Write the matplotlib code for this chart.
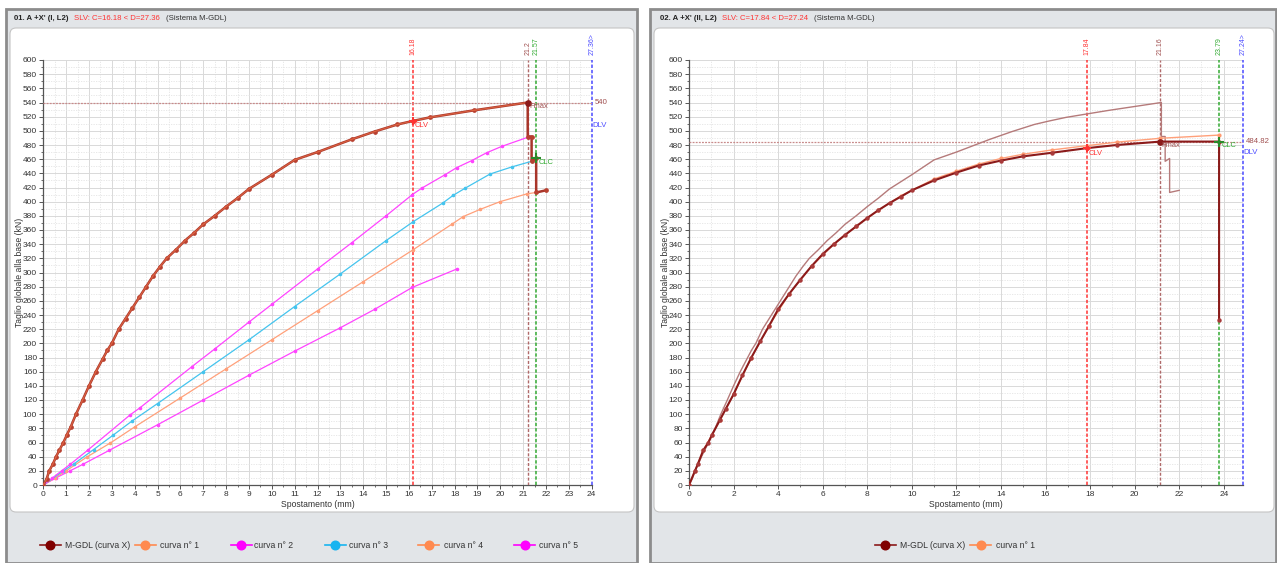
import numpy as np
import matplotlib
matplotlib.use("Agg")
import matplotlib.pyplot as plt
from matplotlib.lines import Line2D
from matplotlib.patches import Rectangle, FancyBboxPatch
from matplotlib.transforms import IdentityTransform
from matplotlib.ticker import MultipleLocator

plt.rcParams['font.family'] = ['Liberation Sans', 'DejaVu Sans']

# ---------------- DATA ----------------
# Panel 01 - M-GDL (curva X)
mgdl_L_x = [0, 0.15, 0.26, 0.41, 0.56, 0.70, 0.88, 1.02, 1.2, 1.43, 1.72, 2.0, 2.3, 2.6, 2.8, 3.0,
            3.3, 3.6, 3.9, 4.2, 4.5, 4.8, 5.1, 5.4, 5.8, 6.2, 6.6, 7.0, 7.5, 8.0, 8.5, 9.0, 10.0,
            11.0, 12.0, 13.5, 14.5, 15.5, 16.18, 16.92, 18.86, 21.2, 21.2, 21.37, 21.37, 21.57,
            21.57, 22.0]
mgdl_L_y = [0, 9, 20, 29, 40, 49, 60, 70, 82, 100, 120, 140, 160, 178, 190, 200,
            220, 235, 250, 265, 280, 295, 308, 320, 332, 345, 356, 368, 380, 393, 405, 418, 438,
            459, 470, 488, 499, 509, 514, 519, 529, 540, 492, 492, 457, 461,
            413, 416]
# curva n° 1 (panel 01) - overlaps M-GDL
c1_L_x = [0, 0.15, 0.26, 0.41, 0.56, 0.70, 0.88, 1.02, 1.2, 1.43, 1.72, 2.0, 2.3, 2.6, 2.8, 3.0,
          3.3, 3.6, 3.9, 4.2, 4.5, 4.8, 5.1, 5.4, 5.8, 6.2, 6.6, 7.0, 7.5, 8.0, 8.5, 9.0, 10.0,
          11.0, 12.0, 13.5, 14.5, 15.5, 16.18, 16.92, 18.86, 21.2]
c1_L_y = [0, 9, 20, 29, 40, 49, 60, 70, 82, 100, 120, 140, 160, 178, 190, 200,
          220, 235, 250, 265, 280, 295, 308, 320, 332, 345, 356, 368, 380, 393, 405, 418, 438,
          459, 470, 488, 499, 509, 514, 519, 529, 540]
# curva n° 2
c2_L_x = [0, 0.4, 0.8, 1.17, 1.94, 3.8, 4.23, 6.5, 7.5, 9.0, 10.0, 12.0, 13.5, 15.0, 16.15,
          16.56, 17.58, 18.09, 18.75, 19.4, 20.06, 21.3]
c2_L_y = [0, 10, 20, 29, 49, 99, 109, 167, 192, 230, 255, 305, 342, 380, 410,
          419, 438, 448, 458, 469, 478, 492]
# curva n° 3
c3_L_x = [0, 0.88, 1.35, 2.2, 3.04, 3.87, 5.0, 7.0, 9.0, 11.0, 13.0, 15.0, 16.2, 17.48,
          17.94, 18.46, 19.55, 20.5, 21.37]
c3_L_y = [0, 20, 30, 50, 70, 90, 115, 160, 205, 252, 298, 345, 372, 398,
          409, 419, 439, 449, 457]
# curva n° 4
c4_L_x = [0, 0.5, 1.0, 1.93, 2.92, 4.0, 6.0, 8.0, 10.0, 12.0, 14.0, 16.18, 17.87, 18.38,
          19.11, 19.99, 21.16, 21.57]
c4_L_y = [0, 10, 20, 40, 59, 82, 123, 164, 205, 246, 287, 332, 368, 379,
          389, 400, 411, 413]
# curva n° 5
c5_L_x = [0, 0.55, 1.17, 1.72, 2.89, 5.0, 7.0, 9.0, 11.0, 13.0, 14.5, 16.15, 18.1]
c5_L_y = [0, 10, 20, 29, 49, 85, 120, 155, 189, 222, 248, 279, 305]

# Panel 02 - M-GDL (curva X)
mgdl_R_x = [0, 0.27, 0.39, 0.64, 0.87, 1.02, 1.39, 1.66, 2.0, 2.4, 2.8, 3.2, 3.6, 4.0, 4.5,
            5.0, 5.5, 6.0, 6.5, 7.0, 7.5, 8.0, 8.5, 9.0, 9.5, 10.0, 11.0, 12.0, 13.0, 14.0,
            15.0, 16.28, 17.84, 19.2, 21.16, 23.79, 23.79]
mgdl_R_y = [0, 20, 29, 49, 60, 70, 92, 108, 128, 155, 180, 203, 225, 248, 270,
            290, 309, 326, 340, 353, 365, 377, 388, 398, 407, 416, 430, 441, 451, 458,
            464, 469, 475.5, 480, 484.82, 484.82, 233]
# curva n° 1 (panel 02)
c1_R_x = [0, 0.27, 0.64, 1.02, 1.39, 2.0, 2.8, 3.6, 4.5, 5.5, 6.5, 7.5, 8.5, 9.5, 11.0,
          12.0, 13.0, 14.0, 15.0, 16.28, 17.84, 19.2, 21.16, 23.79]
c1_R_y = [0, 20, 49, 70, 92, 128, 180, 225, 270, 309, 340, 365, 388, 408, 432,
          443, 453, 461, 467, 473, 479, 484, 489.5, 494]

# Limit states
clv_L, clv_L_y = 16.18, 514
fmax_L, fmax_L_y = 21.2, 540
clc_L, clc_L_y = 21.57, 461
dlv_L = 27.36
clv_R, clv_R_y = 17.84, 475.5
fmax_R, fmax_R_y = 21.16, 484.82
clc_R, clc_R_y = 23.79, 484.82
dlv_R = 27.24

x_ticks_L = list(range(0, 25, 1))
x_ticks_R = list(range(0, 25, 2))
y_ticks = list(range(0, 601, 20))

legend_L = ["M-GDL (curva X)", "curva n° 1", "curva n° 2", "curva n° 3", "curva n° 4", "curva n° 5"]
legend_R = ["M-GDL (curva X)", "curva n° 1"]

# ---------------- STYLE ----------------
W, H = 1277, 563
ID = IdentityTransform()
C_MG = '#a8352a'
C_MG_MK = '#800000'
C_OR = '#ffa07a'
C_OR_LG = '#ff8a50'
C_MA = '#ff44ff'
C_MA_LG = '#ff00ff'
C_CY = '#44c4ee'
C_CY_LG = '#18b4f0'
C_RED = '#ff3333'
C_BR = '#b06a6a'
C_GR = '#33aa33'
C_BL = '#4a4aff'

fig = plt.figure(figsize=(W / 100, H / 100), dpi=100, facecolor='white')

# panels
for x0, x1, ix0, ix1 in [(6, 637, 10, 634), (650, 1276, 654, 1274)]:
    fig.add_artist(Rectangle((x0, 0), x1 - x0, H - 9, transform=ID, facecolor='#e2e5e8',
                             edgecolor='#8c8c8c', lw=2.0, zorder=-10))
    fig.add_artist(FancyBboxPatch((ix0, H - 512), ix1 - ix0, 512 - 28,
                                  boxstyle='round,pad=0,rounding_size=6', transform=ID,
                                  facecolor='white', edgecolor='#c4c4c4', lw=0.8, zorder=-9))

# headers
def header(x_positions, parts):
    for x, (s, col, wt) in zip(x_positions, parts):
        fig.text(x, H - 18.5, s, transform=ID, fontsize=5.6, color=col, weight=wt, va='center', ha='left')

header([14, 74.5, 166.5], [("01. A +X' (I, L2)", '#222222', 'bold'),
                           ("SLV: C=16.18 < D=27.36", '#ff3333', 'normal'),
                           ("(Sistema M-GDL)", '#333333', 'normal')])
header([659.5, 721.5, 814.5], [("02. A +X' (II, L2)", '#222222', 'bold'),
                               ("SLV: C=17.84 < D=27.24", '#ff3333', 'normal'),
                               ("(Sistema M-GDL)", '#333333', 'normal')])

ax_b = 1 - 485 / H
ax_h = 425 / H
axL = fig.add_axes([43.3 / W, ax_b, 548.4 / W, ax_h])
axR = fig.add_axes([689.0 / W, ax_b, 553.7 / W, ax_h])


def setup(ax, xmax, xticks, minor_x, lab_x):
    ax.set_xlim(0, xmax)
    ax.set_ylim(0, 600)
    ax.set_xticks(xticks)
    ax.xaxis.set_minor_locator(MultipleLocator(minor_x))
    ax.set_yticks(y_ticks)
    ax.yaxis.set_minor_locator(MultipleLocator(10))
    ax.grid(which='major', color='#d9d9d9', lw=0.7, ls='-', zorder=0)
    ax.grid(which='minor', color='#e4e4e4', lw=0.6, ls=(0, (1.5, 1.5)), zorder=0)
    ax.set_axisbelow(True)
    for s in ['top', 'right']:
        ax.spines[s].set_visible(False)
    for s in ['left', 'bottom']:
        ax.spines[s].set_color('#555555')
        ax.spines[s].set_linewidth(0.9)
    ax.tick_params(which='major', length=3, width=0.7, color='#555555', labelsize=6,
                   labelcolor='#333333', pad=1.5)
    ax.tick_params(which='minor', length=1.6, width=0.6, color='#555555')
    ax.set_xlabel("Spostamento (mm)", fontsize=6.2, color='#333333')
    ax.set_ylabel("Taglio globale alla base (kN)", fontsize=6.2, color='#333333')
    ax.xaxis.set_label_coords(lab_x, -0.045)
    ax.xaxis.label.set_va('center')
    ax.yaxis.set_label_coords(-23.3 / 548.4, 0.5)
    ax.yaxis.label.set_va('center')


setup(axL, 24, x_ticks_L, 0.5, 0.5)
setup(axR, 24.85, x_ticks_R, 1, 0.5)


def top_label(ax, x, txt, col):
    ax.annotate(txt, xy=(x, 1), xycoords=('data', 'axes fraction'), xytext=(0, 3.5),
                textcoords='offset points', rotation=90, ha='center', va='bottom',
                fontsize=5, color=col, annotation_clip=False)


def limits(ax, clv, clv_y, fmax, fmax_y, clc, clc_y, dlv, ftxt, dlv_label_y):
    xmax = ax.get_xlim()[1]
    dash = (0, (2.2, 1.3))
    ax.axvline(clv, color=C_RED, lw=1.1, ls=dash, zorder=3)
    ax.axvline(fmax, color=C_BR, lw=1.0, ls=dash, zorder=3)
    ax.axvline(clc, color=C_GR, lw=1.1, ls=dash, zorder=3)
    ax.axvline(xmax, color=C_BL, lw=1.1, ls=dash, zorder=3, clip_on=False)
    ax.axhline(fmax_y, color='#c88a8a', lw=0.9, ls=(0, (1.5, 1.0)), zorder=3)
    top_label(ax, clv, f"{clv:g}", C_RED)
    top_label(ax, fmax, f"{fmax:g}", '#a05050')
    top_label(ax, clc, f"{clc:g}", C_GR)
    top_label(ax, xmax, f"{dlv:g}>", C_BL)
    ax.annotate(ftxt, xy=(1, fmax_y), xycoords=('axes fraction', 'data'), xytext=(2.5, 0),
                textcoords='offset points', va='center', ha='left', fontsize=5.6,
                color='#a05050', annotation_clip=False)
    ax.annotate("DLV", xy=(1, dlv_label_y), xycoords=('axes fraction', 'data'), xytext=(0.5, 0),
                textcoords='offset points', va='center', ha='left', fontsize=5.6,
                color=C_BL, annotation_clip=False)
    # points
    ax.plot([clv], [clv_y], marker='+', ms=6, mew=1.4, color=C_RED, zorder=6)
    ax.plot([clv], [clv_y], marker='o', ms=2.5, color=C_RED, zorder=6)
    ax.plot([fmax], [fmax_y], marker='o', ms=3.8, color='#8b1a1a', zorder=6)
    ax.plot([clc], [clc_y], marker='+', ms=6.5, mew=1.5, color='#2a8a2a', zorder=6)
    ax.annotate("CLV", xy=(clv, clv_y), xytext=(1.5, -3.5), textcoords='offset points',
                fontsize=5.4, color=C_RED, va='center', ha='left', zorder=7)
    ax.annotate("Fmax", xy=(fmax, fmax_y), xytext=(1, -3), textcoords='offset points',
                fontsize=5.4, color='#a05050', va='center', ha='left', zorder=7)
    ax.annotate("CLC", xy=(clc, clc_y), xytext=(1.5, -3), textcoords='offset points',
                fontsize=5.4, color=C_GR, va='center', ha='left', zorder=7)


# ---- left panel curves
axL.plot(c5_L_x, c5_L_y, color=C_MA, lw=0.9, marker='o', ms=1.6, zorder=4)
axL.plot(c4_L_x, c4_L_y, color=C_OR, lw=0.9, marker='o', ms=1.6, zorder=4)
axL.plot(c3_L_x, c3_L_y, color=C_CY, lw=0.9, marker='o', ms=1.6, zorder=4)
axL.plot(c2_L_x, c2_L_y, color=C_MA, lw=0.9, marker='o', ms=1.6, zorder=4)
limits(axL, clv_L, clv_L_y, fmax_L, fmax_L_y, clc_L, clc_L_y, dlv_L, "540", 508)
axL.plot(mgdl_L_x, mgdl_L_y, color=C_MG, lw=1.8, marker='o', ms=2.4, mfc='#b84030',
         mec='#b84030', zorder=5)
axL.plot(c1_L_x, c1_L_y, color='#ff8050', lw=0.9, alpha=0.55, zorder=5)

# ---- right panel curves
axR.plot(mgdl_L_x, mgdl_L_y, color='#b57a7a', lw=1.0, zorder=4)
limits(axR, clv_R, clv_R_y, fmax_R, fmax_R_y, clc_R, clc_R_y, dlv_R, "484.82", 469)
axR.plot(c1_R_x, c1_R_y, color=C_OR, lw=1.0, marker='o', ms=2.0, mfc='#ff9a70',
         mec='#ff9a70', zorder=5)
axR.plot(mgdl_R_x, mgdl_R_y, color='#8b1a1a', lw=1.5, marker='o', ms=2.2, mfc='#a83a3a',
         mec='#a83a3a', zorder=5)

# ---- legends (drawn in pixel positions)
def legend_entry(xm, xt, label, lcol, mcol):
    yy = H - 545
    fig.add_artist(Line2D([xm - 10.5, xm + 10.5], [yy, yy], transform=ID, color=lcol, lw=1.2))
    fig.add_artist(Line2D([xm], [yy], transform=ID, marker='o', ms=6.2, color=mcol, lw=0))
    fig.text(xt, yy, label, transform=ID, fontsize=6.2, color='#333333', va='center', ha='left')


colsL = [('#8b1a1a', C_MG_MK), (C_OR_LG, C_OR_LG), (C_MA_LG, C_MA_LG), (C_CY_LG, C_CY_LG),
         (C_OR_LG, C_OR_LG), (C_MA_LG, C_MA_LG)]
posL = [(50, 65), (145, 160), (241, 254.5), (335, 349), (428.6, 443.5), (524.5, 539)]
for (xm, xt), lab, (lc, mc) in zip(posL, legend_L, colsL):
    legend_entry(xm, xt, lab, lc, mc)
posR = [(885, 900.5), (980.8, 996)]
for (xm, xt), lab, (lc, mc) in zip(posR, legend_R, colsL[:2]):
    legend_entry(xm, xt, lab, lc, mc)

fig.savefig("out.png", dpi=100, facecolor='white')
